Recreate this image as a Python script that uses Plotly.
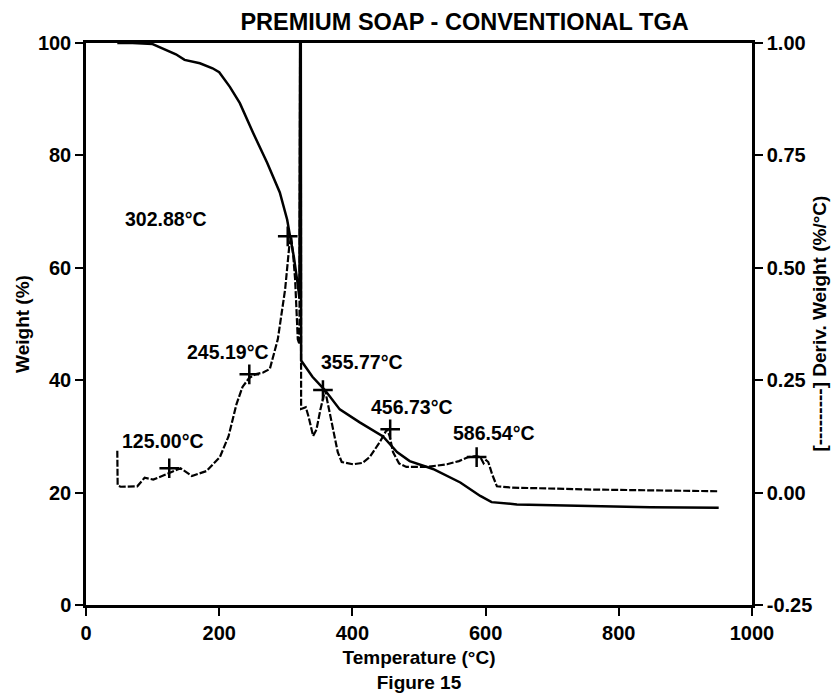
import plotly.graph_objects as go

# Weight-loss curve (solid): temperature in degC, weight in %
temp_weight = [47, 70, 100, 120, 135, 148, 171, 190, 200, 216, 231, 251, 272, 291,
               302, 306, 312, 318, 320.5, 321.5, 322.5, 323, 340, 359, 381, 411,
               446, 467, 486, 521, 562, 592, 609, 647, 750, 847, 950]
weight_pct = [100, 100, 99.8, 98.8, 98.0, 97.0, 96.4, 95.5, 94.8, 92.2, 89.3, 84.0,
              78.7, 73.4, 68.6, 65.9, 62.0, 57.0, 54.5, 100, 100, 43.5, 40.6, 38.2,
              34.8, 32.5, 30.0, 27.2, 25.6, 24.2, 21.8, 19.4, 18.3, 17.9, 17.6, 17.4, 17.3]

# Derivative curve (dashed): temperature in degC, deriv. weight in %/degC
temp_deriv = [47, 47.5, 52, 77, 88, 101, 121, 142, 159, 181, 201, 214, 226, 235, 245,
              254, 266, 276, 288, 299, 305, 308, 311, 314, 318, 320.5, 321.5, 322.5,
              323, 330, 334, 341, 346, 352, 359, 371, 378, 384, 401, 415, 426, 441,
              452, 456, 461, 470, 481, 511, 542, 560, 574, 585, 592, 597, 601, 604,
              610, 617, 640, 671, 750, 850, 950]
deriv_wt = [0.093, 0.016, 0.013, 0.014, 0.033, 0.029, 0.041, 0.054, 0.037, 0.048,
            0.079, 0.125, 0.197, 0.235, 0.255, 0.263, 0.267, 0.275, 0.341, 0.452,
            0.545, 0.570, 0.530, 0.474, 0.341, 0.330, 1.0, 1.0, 0.186, 0.190, 0.170,
            0.126, 0.140, 0.185, 0.228, 0.141, 0.090, 0.068, 0.063, 0.066, 0.079,
            0.112, 0.141, 0.125, 0.090, 0.065, 0.057, 0.057, 0.063, 0.070, 0.079,
            0.081, 0.079, 0.065, 0.072, 0.068, 0.040, 0.014, 0.011, 0.010, 0.007,
            0.005, 0.003]

# Labelled peak positions on the derivative curve
peak_temps = [125.00, 245.19, 302.88, 355.77, 456.73, 586.54]
peak_deriv = [0.054, 0.263, 0.570, 0.228, 0.141, 0.079]

# Where each peak label sits (temperature, weight-axis units)
label_x = [116, 213, 120, 414, 490, 613]
label_y = [29.1, 45.1, 68.6, 43.2, 35.3, 30.6]

x_ticks = [0, 200, 400, 600, 800, 1000]
y_ticks = [0, 20, 40, 60, 80, 100]
y2_ticks = [-0.25, 0.0, 0.25, 0.50, 0.75, 1.00]
y2_tick_text = ["-0.25", "0.00", "0.25", "0.50", "0.75", "1.00"]

FONT = "Liberation Sans, Arial, sans-serif"

fig = go.Figure()

fig.add_trace(go.Scatter(
    x=temp_weight, y=weight_pct, mode="lines",
    line=dict(color="black", width=2.5),
    yaxis="y", hoverinfo="skip"))

fig.add_trace(go.Scatter(
    x=temp_deriv, y=deriv_wt, mode="lines",
    line=dict(color="black", width=2.2, dash="7px,2px"),
    yaxis="y2", hoverinfo="skip"))

fig.add_trace(go.Scatter(
    x=peak_temps, y=peak_deriv, mode="markers",
    marker=dict(symbol="cross-thin", size=14, color="black",
                line=dict(color="black", width=2.5)),
    yaxis="y2", hoverinfo="skip"))

for t, lx, ly in zip(peak_temps, label_x, label_y):
    fig.add_annotation(
        x=lx, y=ly, xref="x", yref="y", text=f"{t:.2f}°C", showarrow=False,
        font=dict(family=FONT, size=19.5, color="black", weight="bold"))

axis_common = dict(
    showgrid=False, zeroline=False, showline=True, linecolor="black", linewidth=2.5,
    ticks="outside", ticklen=8, tickwidth=2, tickcolor="black", automargin=False,
    tickfont=dict(family=FONT, size=20, color="black", weight="bold"))

title_font = dict(family=FONT, size=19, color="black", weight="bold")

# Right-hand axis title, placed in the right margin and read bottom to top
fig.add_annotation(
    x=1.1, y=0.5, xref="paper", yref="paper", xanchor="center", yanchor="middle",
    text="[---------] Deriv. Weight (%/°C)", textangle=-90, showarrow=False,
    font=title_font)

fig.update_layout(
    width=834, height=693,
    margin=dict(l=86, r=82, t=43, b=88, autoexpand=False),
    paper_bgcolor="white", plot_bgcolor="white",
    showlegend=False,
    title=dict(text="PREMIUM SOAP - CONVENTIONAL TGA", x=0.557, xanchor="center",
               y=1 - 22 / 693, yanchor="middle", yref="container",
               font=dict(family=FONT, size=23.5, color="black", weight="bold")),
    xaxis=dict(range=[0, 1000], tickvals=x_ticks, mirror=True,
               title=dict(text="Temperature (°C)<br>Figure 15", standoff=10,
                          font=title_font),
               **axis_common),
    yaxis=dict(range=[0, 100], tickvals=y_ticks,
               title=dict(text="Weight (%)", standoff=4, font=title_font),
               **axis_common),
    yaxis2=dict(range=[-0.25, 1.0], tickvals=y2_ticks, ticktext=y2_tick_text,
                overlaying="y", side="right",
                **axis_common),
)

fig.write_html("out.html")
